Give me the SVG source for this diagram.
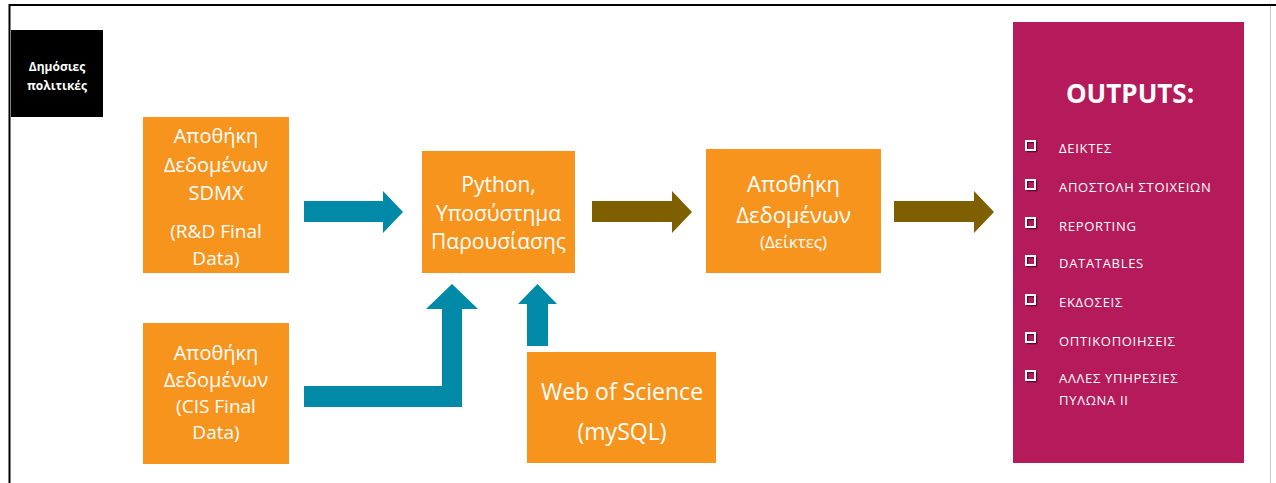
<svg xmlns="http://www.w3.org/2000/svg" width="1276" height="483" viewBox="0 0 1276 483">
<style>
.box{fill:#F7941E}
.t{font-family:"Open Sans","Noto Sans","DejaVu Sans",sans-serif;fill:#fff;text-anchor:middle}
.li{font-family:"Open Sans","Noto Sans","DejaVu Sans",sans-serif;fill:#fff;font-size:13px;letter-spacing:0.7px}
.cb{fill:none;stroke:#fff;stroke-width:2}
.cbs{fill:none;stroke:#5a0a2c;stroke-width:1.5}
.teal{fill:#008AA7}
.brown{fill:#7F6000}
</style>
<rect x="0" y="0" width="1276" height="483" fill="#fff"/>
<g id="frame">
<line x1="9" y1="5" x2="1276" y2="5" stroke="#000" stroke-width="2"/>
<line x1="9.5" y1="4" x2="9.5" y2="483" stroke="#000" stroke-width="2"/>
<line x1="1270.5" y1="6" x2="1270.5" y2="483" stroke="#c8c8c8" stroke-width="1"/>
</g>
<g id="connectors">
<polygon class="teal" points="304,201 383,201 383,191 403,212 383,233 383,222 304,222"/>
<polygon class="brown" points="592,201 672,201 672,191 692,212 672,233 672,222 592,222"/>
<polygon class="brown" points="894,201 974,201 974,191 994,212 974,233 974,222 894,222"/>
<polygon class="teal" points="304,386 442,386 442,309 426,309 452,284 478,309 462,309 462,407 304,407"/>
<polygon class="teal" points="527,346 527,304 518,304 537.5,284 557,304 548,304 548,346"/>
</g>
<g id="node-politikes">
<rect x="11" y="30" width="92" height="87" fill="#000"/>
<text class="t" x="57" y="71" font-size="12" font-weight="bold">Δημόσιες</text>
<text class="t" x="57" y="90" font-size="12" font-weight="bold">πολιτικές</text>
</g>
<g id="node-sdmx">
<rect class="box" x="143" y="117" width="146" height="156"/>
<text class="t" x="216" y="143" font-size="20">Αποθήκη</text>
<text class="t" x="216" y="172" font-size="20">Δεδομένων</text>
<text class="t" x="216" y="200" font-size="20">SDMX</text>
<text class="t" x="216" y="238" font-size="19">(R&amp;D Final</text>
<text class="t" x="216" y="265" font-size="19">Data)</text>
</g>
<g id="node-cis">
<rect class="box" x="143" y="323" width="146" height="141"/>
<text class="t" x="216" y="360" font-size="20">Αποθήκη</text>
<text class="t" x="216" y="387" font-size="20">Δεδομένων</text>
<text class="t" x="216" y="413" font-size="19">(CIS Final</text>
<text class="t" x="216" y="439" font-size="19">Data)</text>
</g>
<g id="node-python">
<rect class="box" x="422" y="151" width="153" height="122"/>
<text class="t" x="498.5" y="192" font-size="21">Python,</text>
<text class="t" x="498.5" y="221" font-size="21">Υποσύστημα</text>
<text class="t" x="498.5" y="249" font-size="21">Παρουσίασης</text>
</g>
<g id="node-wos">
<rect class="box" x="527" y="352" width="189" height="111"/>
<text class="t" x="622" y="400" font-size="23">Web of Science</text>
<text class="t" x="622" y="440" font-size="23">(mySQL)</text>
</g>
<g id="node-deiktes">
<rect class="box" x="706" y="149" width="175" height="124"/>
<text class="t" x="793.5" y="192" font-size="22">Αποθήκη</text>
<text class="t" x="793.5" y="223" font-size="22">Δεδομένων</text>
<text class="t" x="793.5" y="248" font-size="17">(Δείκτες)</text>
</g>
<g id="node-outputs">
<rect x="1013" y="22" width="231" height="441" fill="#B51A5B"/>
<text class="t" x="1130" y="103" font-size="26" font-weight="bold">OUTPUTS:</text>
<g>
<rect class="cbs" x="1027.5" y="142.5" width="9" height="9"/><rect class="cb" x="1026" y="141" width="9" height="9"/>
<rect class="cbs" x="1027.5" y="181.5" width="9" height="9"/><rect class="cb" x="1026" y="180" width="9" height="9"/>
<rect class="cbs" x="1027.5" y="219.5" width="9" height="9"/><rect class="cb" x="1026" y="218" width="9" height="9"/>
<rect class="cbs" x="1027.5" y="257.5" width="9" height="9"/><rect class="cb" x="1026" y="256" width="9" height="9"/>
<rect class="cbs" x="1027.5" y="296.5" width="9" height="9"/><rect class="cb" x="1026" y="295" width="9" height="9"/>
<rect class="cbs" x="1027.5" y="334.5" width="9" height="9"/><rect class="cb" x="1026" y="333" width="9" height="9"/>
<rect class="cbs" x="1027.5" y="372.5" width="9" height="9"/><rect class="cb" x="1026" y="371" width="9" height="9"/>
</g>
<text class="li" x="1059" y="153">ΔΕΙΚΤΕΣ</text>
<text class="li" x="1059" y="192">ΑΠΟΣΤΟΛΗ ΣΤΟΙΧΕΙΩΝ</text>
<text class="li" x="1059" y="231">REPORTING</text>
<text class="li" x="1059" y="268">DATATABLES</text>
<text class="li" x="1059" y="307">ΕΚΔΟΣΕΙΣ</text>
<text class="li" x="1059" y="346">ΟΠΤΙΚΟΠΟΙΗΣΕΙΣ</text>
<text class="li" x="1059" y="383">ΑΛΛΕΣ ΥΠΗΡΕΣΙΕΣ</text>
<text class="li" x="1059" y="405">ΠΥΛΩΝΑ ΙΙ</text>
</g>
</svg>
